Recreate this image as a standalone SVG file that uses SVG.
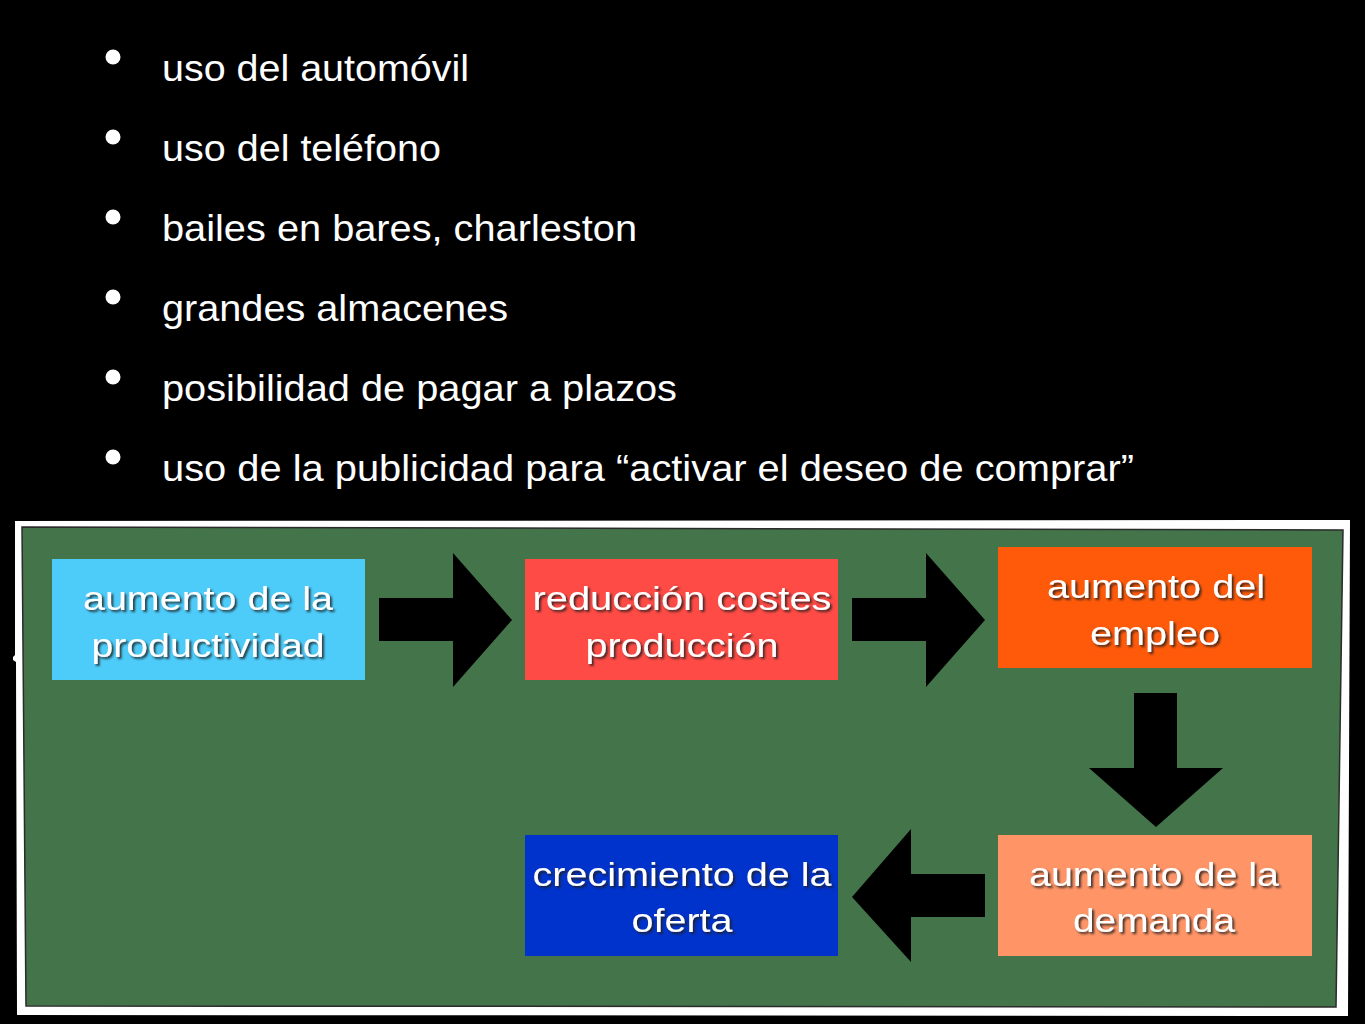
<svg xmlns="http://www.w3.org/2000/svg" width="1365" height="1024" viewBox="0 0 1365 1024">
  <defs>
    <filter id="shadow" x="-10%" y="-30%" width="120%" height="160%">
      <feDropShadow dx="2" dy="2" stdDeviation="0.8" flood-color="#1a1a1a" flood-opacity="0.85"/>
    </filter>
  </defs>
  <style>
    .bullet-text { font-family: "Liberation Sans", Arial, sans-serif; font-size: 36.5px; fill: #ffffff; }
    .bullet { fill: #ffffff; }
    .box-text { font-family: "Liberation Sans", Arial, sans-serif; font-size: 34px; fill: #ffffff; text-anchor: middle; filter: url(#shadow); }
    .arrow { fill: #000000; }
  </style>
  <rect x="0" y="0" width="1365" height="1024" fill="#000000"/>

  <g id="bullets">
    <circle class="bullet" cx="113" cy="57" r="7.5"/>
    <text class="bullet-text" x="162" y="81" textLength="307" lengthAdjust="spacingAndGlyphs">uso del automóvil</text>
    <circle class="bullet" cx="113" cy="137" r="7.5"/>
    <text class="bullet-text" x="162" y="161" textLength="279" lengthAdjust="spacingAndGlyphs">uso del teléfono</text>
    <circle class="bullet" cx="113" cy="217" r="7.5"/>
    <text class="bullet-text" x="162" y="241" textLength="475" lengthAdjust="spacingAndGlyphs">bailes en bares, charleston</text>
    <circle class="bullet" cx="113" cy="297" r="7.5"/>
    <text class="bullet-text" x="162" y="321" textLength="346" lengthAdjust="spacingAndGlyphs">grandes almacenes</text>
    <circle class="bullet" cx="113" cy="377" r="7.5"/>
    <text class="bullet-text" x="162" y="401" textLength="515" lengthAdjust="spacingAndGlyphs">posibilidad de pagar a plazos</text>
    <circle class="bullet" cx="113" cy="457" r="7.5"/>
    <text class="bullet-text" x="162" y="481" textLength="972" lengthAdjust="spacingAndGlyphs">uso de la publicidad para “activar el deseo de comprar”</text>
  </g>

  <g id="panel">
    <polygon points="15,521 1350,520 1348,1016 17,1015 16,662 13,660 13,657 15,655" fill="#ffffff"/>
    <polygon points="22,527 1343,530 1336,1007 26,1006" fill="#43744a" stroke="#2b2b2b" stroke-width="1.5"/>
  </g>

  <g id="connectors">
    <polygon class="arrow" points="379,598 453,598 453,553 512,620 453,687 453,641 379,641"/>
    <polygon class="arrow" points="852,598 926,598 926,553 985,620 926,687 926,641 852,641"/>
    <polygon class="arrow" points="1134,693 1177,693 1177,768 1223,768 1156,827 1089,768 1134,768"/>
    <polygon class="arrow" points="985,874 911,874 911,829 852,897 911,962 911,917 985,917"/>
  </g>

  <g id="node-productividad">
    <rect x="52" y="559" width="313" height="121" fill="#4dccfa"/>
    <text class="box-text" x="208" y="610" textLength="250" lengthAdjust="spacingAndGlyphs">aumento de la</text>
    <text class="box-text" x="208" y="657" textLength="233" lengthAdjust="spacingAndGlyphs">productividad</text>
  </g>

  <g id="node-costes">
    <rect x="525" y="559" width="313" height="121" fill="#ff4b45"/>
    <text class="box-text" x="682" y="610" textLength="299" lengthAdjust="spacingAndGlyphs">reducción costes</text>
    <text class="box-text" x="682" y="657" textLength="193" lengthAdjust="spacingAndGlyphs">producción</text>
  </g>

  <g id="node-empleo">
    <rect x="998" y="547" width="314" height="121" fill="#ff5a0a"/>
    <text class="box-text" x="1156" y="598" textLength="218" lengthAdjust="spacingAndGlyphs">aumento del</text>
    <text class="box-text" x="1155" y="645" textLength="130" lengthAdjust="spacingAndGlyphs">empleo</text>
  </g>

  <g id="node-demanda">
    <rect x="998" y="835" width="314" height="121" fill="#ff9466"/>
    <text class="box-text" x="1154" y="886" textLength="250" lengthAdjust="spacingAndGlyphs">aumento de la</text>
    <text class="box-text" x="1154" y="932" textLength="162" lengthAdjust="spacingAndGlyphs">demanda</text>
  </g>

  <g id="node-oferta">
    <rect x="525" y="835" width="313" height="121" fill="#0033cc"/>
    <text class="box-text" x="682" y="886" textLength="299" lengthAdjust="spacingAndGlyphs">crecimiento de la</text>
    <text class="box-text" x="682" y="932" textLength="101" lengthAdjust="spacingAndGlyphs">oferta</text>
  </g>
</svg>
